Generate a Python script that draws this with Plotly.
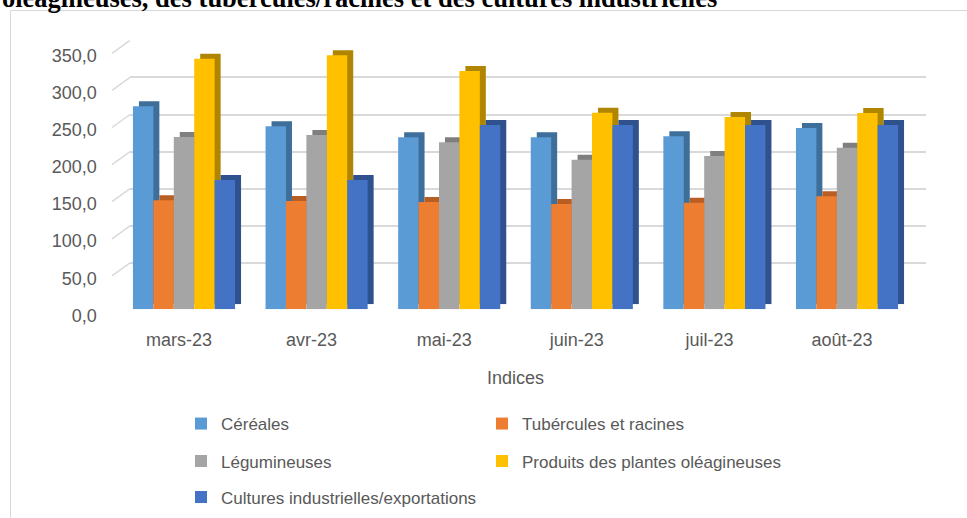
import plotly.graph_objects as go

# ---- data ----
categories = ["mars-23", "avr-23", "mai-23", "juin-23", "juil-23", "août-23"]
cereales = [273.6, 246.6, 231.8, 231.8, 233.2, 244.3]
tubercules = [146.9, 146.0, 144.6, 141.9, 143.7, 152.3]
legumineuses = [232.2, 234.9, 225.1, 201.6, 206.6, 217.8]
oleagineuses = [337.7, 342.3, 321.2, 265.0, 259.2, 264.6]
cultures = [174.3, 174.3, 248.4, 248.4, 248.4, 248.4]
series_names = ["Céréales", "Tubércules et racines", "Légumineuses",
                "Produits des plantes oléagineuses", "Cultures industrielles/exportations"]
tick_vals = [0, 50, 100, 150, 200, 250, 300, 350]
tick_text = ["0,0", "50,0", "100,0", "150,0", "200,0", "250,0", "300,0", "350,0"]
title_text = "oléagineuses, des tubercules/racines et des cultures industrielles"
axis_title = "Indices"

series_values = [cereales, tubercules, legumineuses, oleagineuses, cultures]
front_colors = ["#5B9BD5", "#ED7D31", "#A5A5A5", "#FFC000", "#4472C4"]
side_colors = ["#3E6E9A", "#B85E22", "#7F7F7F", "#B08600", "#2F528F"]

W, H = 967, 518
FONT = "Liberation Sans, Arial, sans-serif"
GREY = "#595959"


def px(p):
    return p / W


def py(p):
    return 1 - p / H


# pixel geometry of the three layers (back wall, bar depth, bar front)
front_x = (117.7, 913.3)
front_y = (309.3, 49.6)  # bottom, top
shadow_dx, shadow_dy = 6, -5
wall_dx, wall_dy = 12.3, -9.3

fig = go.Figure()

# back wall gridlines subplot (xy)
fig.add_trace(go.Scatter(x=categories, y=[None] * len(categories), xaxis="x", yaxis="y",
                         showlegend=False, hoverinfo="skip", mode="markers"))

# depth (side/top faces) subplot (x2y2)
for name, vals, col in zip(series_names, series_values, side_colors):
    fig.add_trace(go.Bar(x=categories, y=vals, name=name, marker=dict(color=col, line=dict(width=0)),
                         xaxis="x2", yaxis="y2", showlegend=False, hoverinfo="skip"))

# front faces subplot (x3y3)
legends = ["legend", "legend", "legend2", "legend2", "legend3"]
for name, vals, col, lg in zip(series_names, series_values, front_colors, legends):
    fig.add_trace(go.Bar(x=categories, y=vals, name=name, marker=dict(color=col, line=dict(width=0)),
                         xaxis="x3", yaxis="y3", legend=lg))

common_x = dict(type="category", range=[-0.5, 5.5], showgrid=False, zeroline=False,
                showline=False, ticks="", automargin=False, fixedrange=True)
common_y = dict(range=[0, 350], zeroline=False, showline=False, ticks="",
                automargin=False, fixedrange=True)

fig.update_layout(
    width=W, height=H,
    margin=dict(l=0, r=0, t=0, b=0, pad=0, autoexpand=False),
    paper_bgcolor="white", plot_bgcolor="rgba(0,0,0,0)",
    barmode="group", bargap=0.23, bargroupgap=0,
    font=dict(family=FONT, color=GREY, size=17),
    xaxis=dict(common_x, domain=[px(front_x[0] + wall_dx), px(front_x[1] + wall_dx)],
               anchor="y", showticklabels=False),
    yaxis=dict(common_y, domain=[py(front_y[0] + wall_dy), py(front_y[1] + wall_dy)],
               anchor="x", showgrid=True, gridcolor="#D9D9D9", gridwidth=1.5,
               tickvals=tick_vals, showticklabels=False),
    xaxis2=dict(common_x, domain=[px(front_x[0] + shadow_dx), px(front_x[1] + shadow_dx)],
                anchor="y2", showticklabels=False),
    yaxis2=dict(common_y, domain=[py(front_y[0] + shadow_dy), py(front_y[1] + shadow_dy)],
                anchor="x2", showgrid=False, showticklabels=False),
    xaxis3=dict(common_x, domain=[px(front_x[0]), px(front_x[1])], anchor="y3",
                tickfont=dict(size=18, color=GREY, family=FONT),
                ticklabelstandoff=18, ticklabelshift=-5,
                title=dict(text=axis_title, font=dict(size=18, color=GREY, family=FONT), standoff=22)),
    yaxis3=dict(common_y, domain=[py(front_y[0]), py(front_y[1])], anchor="x3", showgrid=False,
                tickvals=tick_vals, ticktext=tick_text,
                tickfont=dict(size=18, color=GREY, family=FONT),
                ticklabelstandoff=20, ticklabelshift=6),
    showlegend=True,
)

leg_common = dict(orientation="h", entrywidth=256, entrywidthmode="pixels", itemwidth=30,
                  font=dict(size=17, color=GREY, family=FONT), bgcolor="rgba(0,0,0,0)",
                  xanchor="left", yanchor="middle", x=px(181), traceorder="normal")
fig.update_layout(
    legend=dict(leg_common, y=py(424)),
    legend2=dict(leg_common, y=py(461.5)),
    legend3=dict(leg_common, y=py(497.5)),
)

# left side-wall diagonal gridlines (anchored at tick values of back wall axis)
for v in tick_vals:
    fig.add_shape(type="line", xref="paper", yref="y", ysizemode="pixel", yanchor=v,
                  x0=px(112), x1=px(front_x[0] + wall_dx), y0=-13, y1=0,
                  line=dict(color="#D9D9D9", width=1.5), layer="below")

# chart border
fig.add_shape(type="rect", xref="paper", yref="paper", x0=px(10.5), x1=px(1000),
              y0=py(560), y1=py(10.5), line=dict(color="#D9D9D9", width=1), layer="below")

# cut-off title from the surrounding document
fig.add_annotation(text=title_text, xref="paper", yref="paper", x=0, y=py(-2),
                   xanchor="left", yanchor="middle", showarrow=False,
                   font=dict(family="Liberation Serif, Times New Roman, serif", size=26.5,
                             color="black", weight="bold"))

fig.write_html("out.html", config={"displayModeBar": False},
               post_script="document.body.style.margin='0';")
